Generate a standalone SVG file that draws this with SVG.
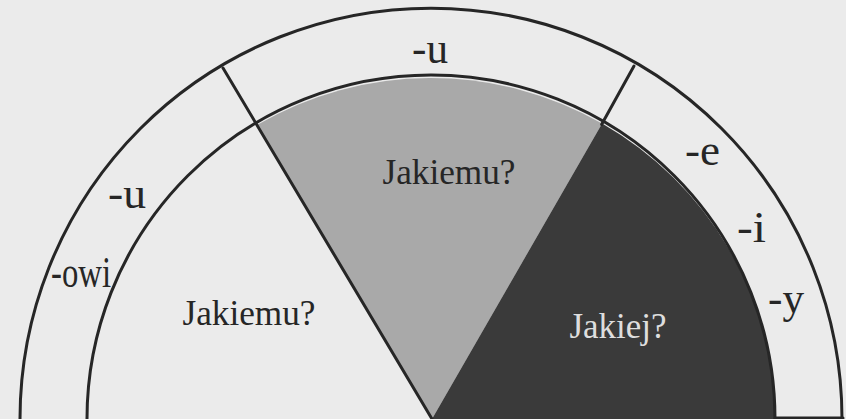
<svg xmlns="http://www.w3.org/2000/svg" width="846" height="419" viewBox="0 0 846 419">
<style>
.ln{fill:none;stroke:#262626;stroke-width:3;stroke-linecap:round}
.lbl{font-family:"Liberation Serif","Times New Roman",serif;font-size:45px;fill:#262626}
.q{font-family:"Liberation Serif","Times New Roman",serif;font-size:36px;fill:#262626}
</style>
<rect width="846" height="419" fill="#ebebeb"/>
<g id="sector-gray">
<path d="M432 419 L256.9 125.1 A345 345 0 0 1 602.1 123.5 Z" fill="#a9a9a9"/>
<text class="q" x="449" y="184" text-anchor="middle" textLength="133" lengthAdjust="spacingAndGlyphs">Jakiemu?</text>
</g>
<g id="sector-dark">
<path d="M432 419 L602.1 123.5 A345 345 0 0 1 776 419 Z" fill="#3a3a3a"/>
<text class="q" x="618" y="338" text-anchor="middle" textLength="97" lengthAdjust="spacingAndGlyphs" style="fill:#dedede">Jakiej?</text>
</g>
<g id="sector-white">
<text class="q" x="249" y="325" text-anchor="middle" textLength="133" lengthAdjust="spacingAndGlyphs">Jakiemu?</text>
</g>
<g id="connectors">
<path class="ln" d="M20 419 A411 411 0 0 1 842 419"/>
<path class="ln" d="M87 419 A344 344 0 0 1 775 419"/>
<path class="ln" d="M432 419 L223 68"/>
<path class="ln" d="M601.6 124.4 L634 66"/>
<path class="ln" d="M775 418 L843 418"/>
</g>
<g id="ring-labels">
<text class="lbl" x="412" y="63" textLength="36" lengthAdjust="spacingAndGlyphs">-u</text>
<text class="lbl" x="108" y="208" textLength="38" lengthAdjust="spacingAndGlyphs">-u</text>
<text class="lbl" x="51" y="287" textLength="60" lengthAdjust="spacingAndGlyphs">-owi</text>
<text class="lbl" x="685" y="165" textLength="35" lengthAdjust="spacingAndGlyphs">-e</text>
<text class="lbl" x="737" y="242" textLength="29" lengthAdjust="spacingAndGlyphs">-i</text>
<text class="lbl" x="768" y="313" textLength="36" lengthAdjust="spacingAndGlyphs">-y</text>
</g>
</svg>
